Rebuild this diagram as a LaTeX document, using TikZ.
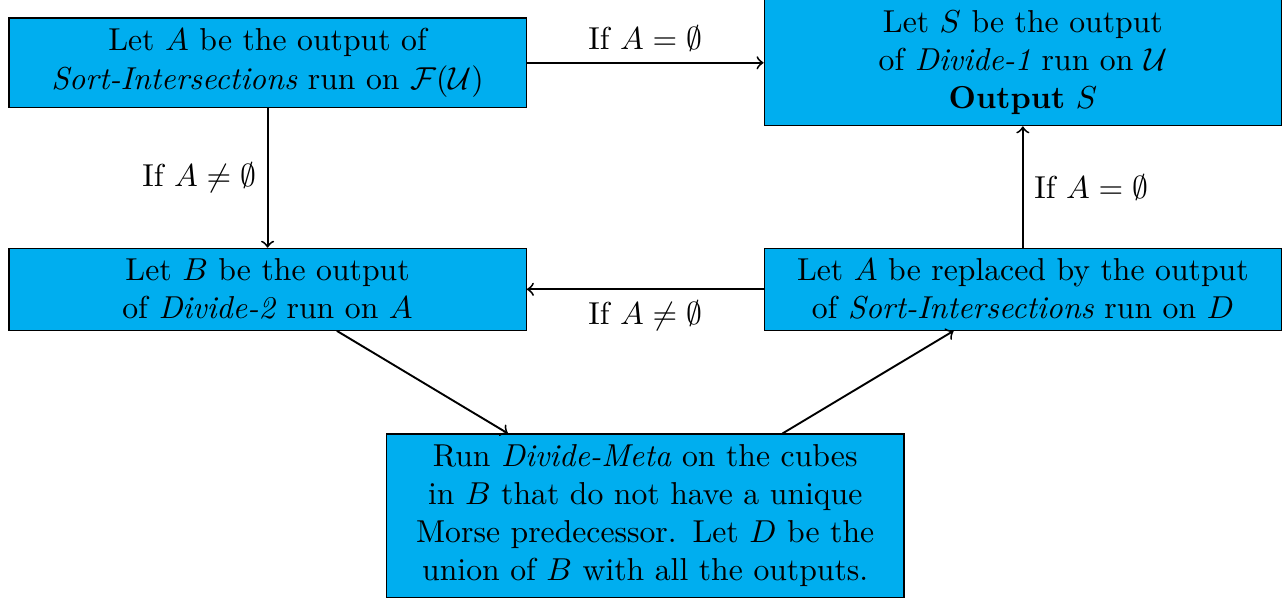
\documentclass[tikz,border=0pt]{standalone}
\usepackage{amsmath}
\usepackage{amssymb}
\usepackage{xcolor}
\usepackage{tikz}
\definecolor{stepcyan}{RGB}{0,174,239}

\begin{document}
\begin{tikzpicture}[x=4.186cm, y=2.511cm,
  stagebox/.style={draw=black, line width=0.4pt, fill=stepcyan, text width=5.5cm, align=center},
  flow/.style={->, semithick}]
  \useasboundingbox (-2.966cm,0.696cm) rectangle (11.30cm,-5.978cm);
  \node[stagebox] (sortA) at (0,0) {Let $A$ be the output of\\ \textit{Sort-Intersections} run on $\mathcal{F}(\mathcal{U})$};
  \node[stagebox, minimum height=39.7pt] (divOne) at (2,0) {Let $S$ be the output\\ of \textit{Divide-1} run on $\mathcal{U}$\\ \textbf{Output} $S$};
  \node[stagebox] (divTwo) at (0,-1) {Let $B$ be the output\\ of \textit{Divide-2} run on $A$};
  \node[stagebox] (sortD) at (2,-1) {Let $A$ be replaced by the output\\ of \textit{Sort-Intersections} run on $D$};
  \node[stagebox] (meta) at (1,-2) {Run \textit{Divide-Meta} on the cubes\\ in $B$ that do not have a unique\\ Morse predecessor. Let $D$ be the\\ union of $B$ with all the outputs.};

  \draw[flow] (sortA) -- node[above] {If $A=\emptyset$} (divOne);
  \draw[flow] (sortA) -- node[left] {If $A\neq\emptyset$} (divTwo);
  \draw[flow] (sortD) -- node[right] {If $A=\emptyset$} (divOne);
  \draw[flow] (sortD) -- node[below] {If $A\neq\emptyset$} (divTwo);
  \draw[flow] (divTwo) -- (meta);
  \draw[flow] (meta) -- (sortD);
\end{tikzpicture}
\end{document}
